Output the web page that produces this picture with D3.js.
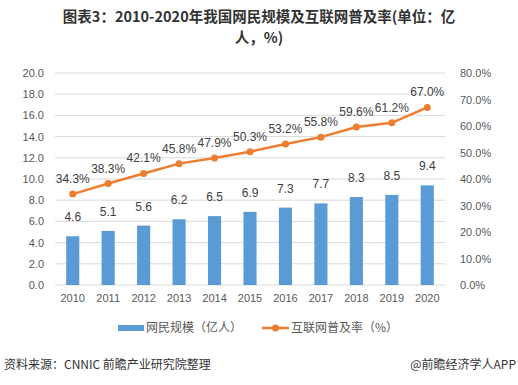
<!DOCTYPE html>
<html>
<head>
<meta charset="utf-8">
<script src="https://cdn.jsdelivr.net/npm/d3@7"></script>
<style>
  body { margin: 0; background: #fff; }
  svg { font-family: "Noto Sans CJK SC", "Microsoft YaHei", sans-serif; }
</style>
</head>
<body>
<svg id="chart" width="518" height="385"></svg>
<script>
const years = ['2010', '2011', '2012', '2013', '2014', '2015', '2016', '2017', '2018', '2019', '2020']
const netizens = [4.6, 5.1, 5.6, 6.2, 6.5, 6.9, 7.3, 7.7, 8.3, 8.5, 9.4] // 亿人
const penetration = [34.3, 38.3, 42.1, 45.8, 47.9, 50.3, 53.2, 55.8, 59.6, 61.2, 67.0] // %
const leftTicks = [0, 2, 4, 6, 8, 10, 12, 14, 16, 18, 20]
const rightTicks = [0, 10, 20, 30, 40, 50, 60, 70, 80]

const blue = '#5b9bd5'
const orange = '#ed7d31'
const textColor = '#595959'

const svg = d3.select('#chart')
const margin = { left: 55, right: 73, top: 73, bottom: 100 }
const W = 518, H = 385

const x = d3.scaleBand().domain(years).range([margin.left, W - margin.right]).paddingInner(0.63).paddingOuter(0.315)
const yL = d3.scaleLinear().domain([0, 20]).range([H - margin.bottom, margin.top])
const yR = d3.scaleLinear().domain([0, 80]).range([H - margin.bottom, margin.top])

// title, wrapped the same way as the original
const title = svg.append('g').attr('fill', '#333').attr('font-weight', 'bold').attr('font-size', 14.5).attr('text-anchor', 'middle')
title.append('text').attr('x', 259).attr('y', 22).text('图表3：2010-2020年我国网民规模及互联网普及率(单位：亿')
title.append('text').attr('x', 259).attr('y', 43).text('人，%)')

// grid
svg.append('g').selectAll('line').data(leftTicks).join('line')
  .attr('x1', margin.left).attr('x2', W - margin.right)
  .attr('y1', d => yL(d)).attr('y2', d => yL(d))
  .attr('stroke', '#d9d9d9').attr('stroke-width', 1)

// left axis
const axL = svg.append('g').attr('transform', `translate(${margin.left - 8},0)`)
  .call(d3.axisLeft(yL).tickValues(leftTicks).tickFormat(d3.format('.1f')).tickSize(0))
axL.select('.domain').remove()
axL.selectAll('text').attr('fill', textColor).attr('font-size', 11).attr('font-family', 'Liberation Sans, Arial, sans-serif')

// right axis
const axR = svg.append('g').attr('transform', `translate(${W - margin.right + 12},0)`)
  .call(d3.axisRight(yR).tickValues(rightTicks).tickFormat(d => d.toFixed(1) + '%').tickSize(0))
axR.select('.domain').remove()
axR.selectAll('text').attr('fill', textColor).attr('font-size', 11).attr('font-family', 'Liberation Sans, Arial, sans-serif')

// x axis
const axX = svg.append('g').attr('transform', `translate(0,${H - margin.bottom + 6})`)
  .call(d3.axisBottom(x).tickSize(0))
axX.select('.domain').remove()
axX.selectAll('text').attr('fill', textColor).attr('font-size', 11).attr('font-family', 'Liberation Sans, Arial, sans-serif')

// bars
svg.append('g').selectAll('rect').data(netizens).join('rect')
  .attr('x', (d, i) => x(years[i])).attr('width', x.bandwidth())
  .attr('y', d => yL(d)).attr('height', d => yL(0) - yL(d))
  .attr('fill', blue)
svg.append('g').selectAll('text').data(netizens).join('text')
  .attr('x', (d, i) => x(years[i]) + x.bandwidth() / 2).attr('y', d => yL(d) - 15)
  .attr('text-anchor', 'middle').attr('font-size', 12).attr('fill', '#404040')
  .attr('font-family', 'Liberation Sans, Arial, sans-serif')
  .text(d => d.toFixed(1))

// line
const cx = i => x(years[i]) + x.bandwidth() / 2
svg.append('path').datum(penetration)
  .attr('d', d3.line().x((d, i) => cx(i)).y(d => yR(d)))
  .attr('fill', 'none').attr('stroke', orange).attr('stroke-width', 2.5)
svg.append('g').selectAll('circle').data(penetration).join('circle')
  .attr('cx', (d, i) => cx(i)).attr('cy', d => yR(d)).attr('r', 3.5).attr('fill', orange)
svg.append('g').selectAll('text').data(penetration).join('text')
  .attr('x', (d, i) => cx(i)).attr('y', d => yR(d) - 11)
  .attr('text-anchor', 'middle').attr('font-size', 12).attr('fill', '#404040')
  .attr('font-family', 'Liberation Sans, Arial, sans-serif')
  .text(d => d.toFixed(1) + '%')

// legend
const lg = svg.append('g').attr('font-size', 12).attr('fill', textColor)
lg.append('rect').attr('x', 118).attr('y', 325).attr('width', 26).attr('height', 6).attr('fill', blue)
lg.append('text').attr('x', 146).attr('y', 332).text('网民规模（亿人）')
lg.append('line').attr('x1', 262).attr('x2', 289).attr('y1', 328).attr('y2', 328).attr('stroke', orange).attr('stroke-width', 2.5)
lg.append('circle').attr('cx', 275.5).attr('cy', 328).attr('r', 3.5).attr('fill', orange)
lg.append('text').attr('x', 291).attr('y', 332).text('互联网普及率（%）')

// footer
const ft = svg.append('g').attr('font-size', 12).attr('fill', '#333')
ft.append('text').attr('x', 4).attr('y', 369).text('资料来源：CNNIC 前瞻产业研究院整理')
ft.append('text').attr('x', 516).attr('y', 369).attr('text-anchor', 'end').text('@前瞻经济学人APP')
</script>
</body>
</html>
